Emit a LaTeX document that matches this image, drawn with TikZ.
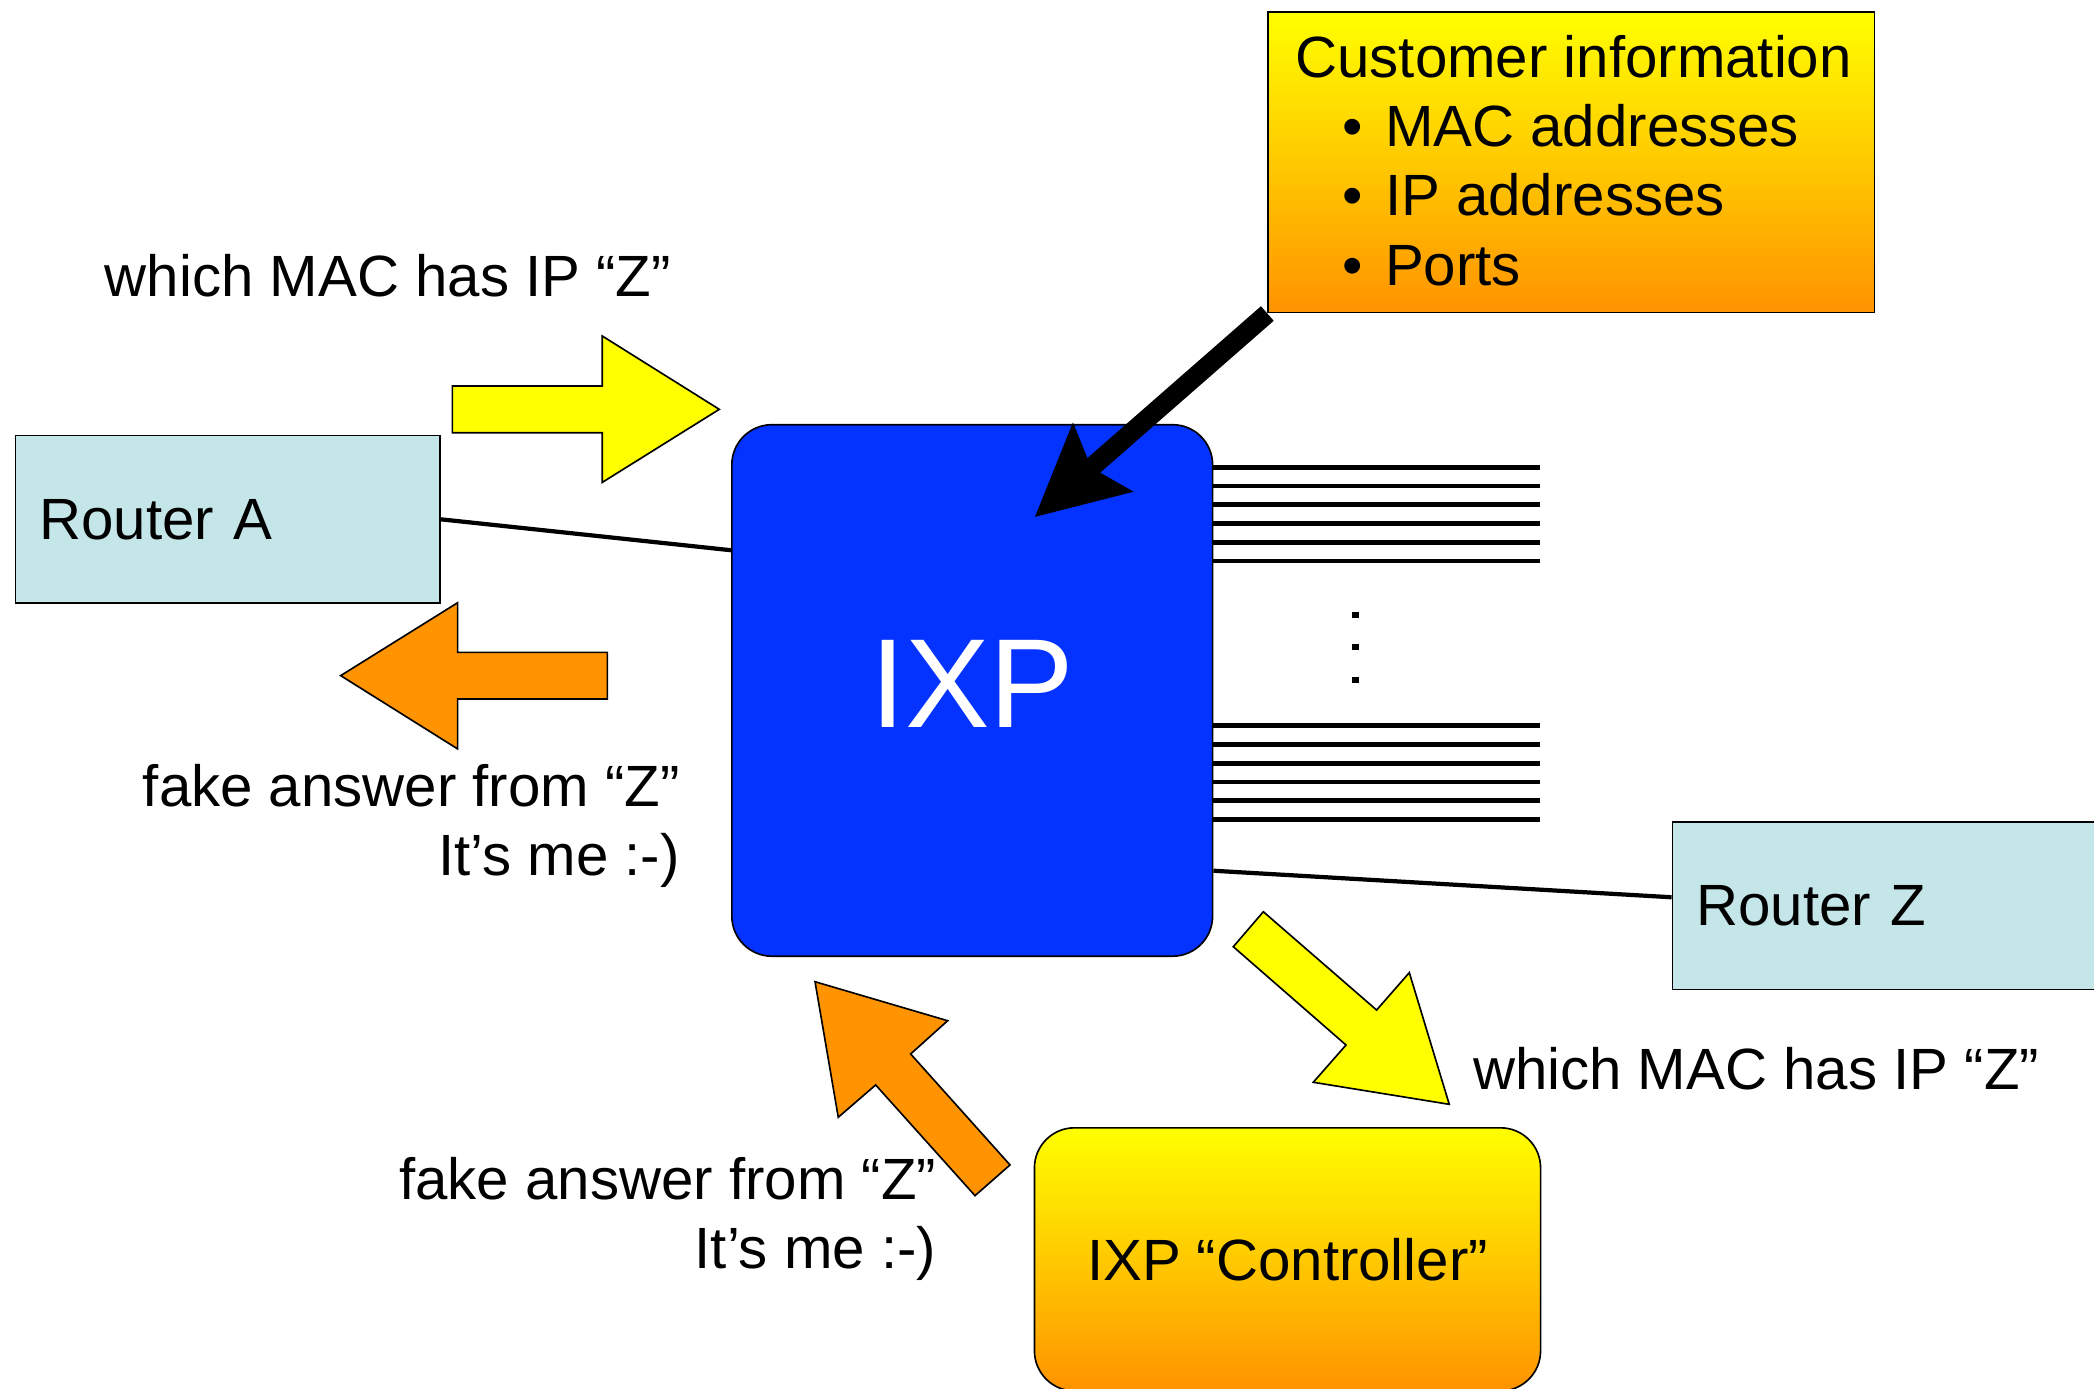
\documentclass[tikz,border=0pt]{standalone}
\usepackage{fontspec}
\setmainfont{Liberation Sans}
\usepackage{tikz}
\usetikzlibrary{arrows.meta}
\usetikzlibrary{positioning}

\definecolor{ixpblue}{RGB}{4,51,255}
\definecolor{routerblue}{RGB}{197,230,232}
\definecolor{askyellow}{RGB}{255,255,0}
\definecolor{ansorange}{RGB}{255,147,0}

\begin{document}
\begin{tikzpicture}[
            x = 0.1mm, y = -0.1mm, % one unit per pixel, y runs downwards
            semithick, % line style
            font = \fontsize{12.4pt}{14.74pt}\selectfont
        ]

        \tikzstyle{router}=[
            draw, line width = 0.35pt,
            fill = routerblue,
            minimum width = 31.8mm, minimum height = 12.55mm,
            text width = 28.2mm, inner xsep = 1.8mm, align = left,
            anchor = north west
        ]
        \tikzstyle{ixp}=[
            draw, line width = 0.35pt,
            fill = ixpblue, text = white,
            rounded corners = 3mm,
            minimum width = 36mm, minimum height = 39.8mm,
            text depth = 1mm,
            font = \fontsize{27pt}{32pt}\selectfont
        ]
        \tikzstyle{feed}=[draw, line width = 0.35pt, top color = askyellow, bottom color = ansorange]
        \tikzstyle{ask}=[draw, line width = 0.35pt, fill = askyellow]
        \tikzstyle{answer}=[draw, line width = 0.35pt, fill = ansorange]
        \tikzstyle{link}=[line width = 0.9pt]
        \tikzstyle{port}=[line width = 1pt]
        \tikzstyle{pointer}=[line width = 1.45mm, -{Stealth[length=6.8mm, width=6.9mm, inset=1.2mm, line width=0pt]}]
        \tikzstyle{caption}=[inner sep = 0pt]

        \useasboundingbox (0,0) rectangle (1568,1040);

	% routers and exchange
        \node[router] (routerA) at (11,325.5) {Router A};
        \node[router] (routerZ) at (1251.7,614.7) {Router Z};
        \node[ixp] (ixp) at (728,517) {IXP};

        \draw[link] (routerA.east) -- ([yshift=10.5mm]ixp.west);
        \draw[link] ([yshift=-13.5mm]ixp.east) -- ([yshift=0.62mm]routerZ.west);

	% customer ports
        \foreach \y [count=\i] in {350,364,378,392,406,420,543.5,557.5,571.5,585.5,599.5,613.5} {
            \coordinate (port\i) at (1153,\y);
            \draw[port] (ixp.east |- port\i) -- (port\i);
        }
        \foreach \y in {460.4,484.4,508.8}
            \fill (1015,\y) +(-2.25,-2.25) rectangle +(2.25,2.25);

	% customer information
        \node[feed, minimum width = 45.4mm, minimum height = 22.53mm, anchor = north west] (info) at (949,8.2) {};
        \node[caption, anchor = base west] (infoT) at (969,57.9) {Customer information};
        \node[caption, anchor = base west] (infoA) at (1004.4,109.8) {\makebox[3.17mm][l]{•}MAC addresses};
        \node[caption, anchor = base west] (infoB) at ([yshift=-5.18mm]infoA.base west) {\makebox[3.17mm][l]{•}IP addresses};
        \node[caption, anchor = base west] (infoC) at ([yshift=-5.18mm]infoB.base west) {\makebox[3.17mm][l]{•}Ports};

        \coordinate (ixpin) at (775,387);
        \draw[pointer] (info.south west) -- (ixpin);

	% request and fake answer at router A
        \draw[ask] (338.7,289) -- (451,289) -- (451,251.6) -- (538.6,306.5) -- (451,361.2) -- (451,324) -- (338.7,324) -- cycle;
        \draw[answer] (454.8,488.5) -- (342.7,488.5) -- (342.7,451.3) -- (255.1,505.9) -- (342.7,560.8) -- (342.7,523.4) -- (454.8,523.4) -- cycle;

        \node[caption, anchor = base west] (askA) at (77.5,222) {which MAC has IP “Z”};
        \node[caption, anchor = base east] (ansA) at (510,603.7) {fake answer from “Z”};
        \node[caption, anchor = base east] (ansAb) at ([yshift=-5.17mm]ansA.base east) {It’s me :-)};

	% request and fake answer at the controller
        \draw[ask] (946,682.7) -- (1030.8,756.3) -- (1055.3,728.3) -- (1085.2,826.9) -- (983.4,810.4) -- (1007.9,782.5) -- (923.5,708.9) -- cycle;
        \draw[answer] (730.1,895.3) -- (655.7,812.4) -- (627.7,836.6) -- (610.3,735.1) -- (709.6,764.3) -- (681.9,789.2) -- (756.3,872.3) -- cycle;

        \node[caption, anchor = base west] (askZ) at (1102,816) {which MAC has IP “Z”};
        \node[caption, anchor = base east] (ansC) at (702,898.5) {fake answer from “Z”};
        \node[caption, anchor = base east] (ansCb) at ([yshift=-5.17mm]ansC.base east) {It’s me :-)};

        \node[feed, rounded corners = 3mm, minimum width = 37.9mm, minimum height = 19.7mm] (ctrl) at (964.1,943) {IXP “Controller”};

\end{tikzpicture}
\end{document}
